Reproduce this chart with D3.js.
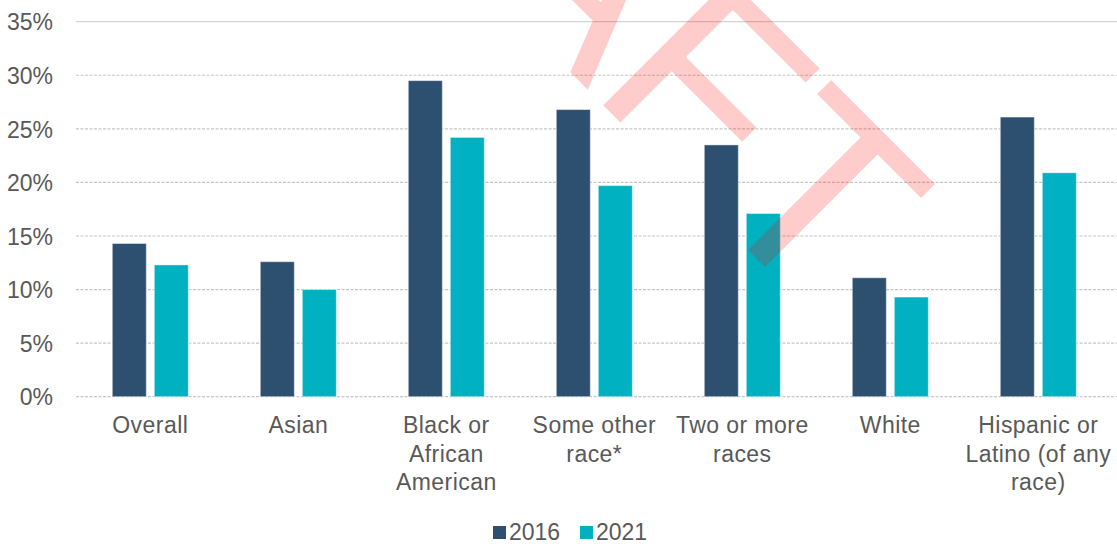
<!DOCTYPE html>
<html>
<head>
<meta charset="utf-8">
<script src="https://cdn.jsdelivr.net/npm/d3@7"></script>
<style>
  html, body { margin: 0; padding: 0; background: #ffffff; }
  svg { display: block; font-family: "Liberation Sans", Arial, sans-serif; }
</style>
</head>
<body>
<svg id="chart" width="1117" height="544"></svg>
<script>
// Share of population by race / ethnicity, 2016 vs 2021
const categories = [
  "Overall", "Asian", "Black or African American", "Some other race*",
  "Two or more races", "White", "Hispanic or Latino (of any race)"
];
const labelLines = [
  ["Overall"], ["Asian"], ["Black or", "African", "American"], ["Some other", "race*"],
  ["Two or more", "races"], ["White"], ["Hispanic or", "Latino (of any", "race)"]
];
const seriesNames = ["2016", "2021"];
const values2016 = [14.3, 12.6, 29.5, 26.8, 23.5, 11.1, 26.1];
const values2021 = [12.3, 10.0, 24.2, 19.7, 17.1, 9.3, 20.9];
const yTicks = [0, 5, 10, 15, 20, 25, 30, 35];
const colors = ["#2D4F70", "#00B1C1"];

const svg = d3.select("#chart");
const W = 1117;

const x = d3.scaleBand()
  .domain(categories)
  .range([76.3, 1112.3])
  .paddingInner(72 / 148)
  .paddingOuter(36 / 148);

const xSub = d3.scaleBand()
  .domain(seriesNames)
  .range([0, x.bandwidth()])
  .paddingInner(8 / 42)
  .paddingOuter(0);

const y = d3.scaleLinear().domain([0, 35]).range([396.7, 21.7]);

// Horizontal gridlines
const grid = svg.append("g");
grid.selectAll("line")
  .data(yTicks)
  .join("line")
  .attr("x1", 76)
  .attr("x2", W)
  .attr("y1", d => y(d))
  .attr("y2", d => y(d))
  .attr("stroke", d => d === 35 ? "#D4D4D4" : "#C6C6C6")
  .attr("stroke-width", 1.2)
  .attr("stroke-dasharray", d => d === 35 ? null : "3,1.5");

// Y axis labels
const yAxis = d3.axisLeft(y)
  .tickValues(yTicks)
  .tickFormat(d => d + "%")
  .tickSize(0)
  .tickPadding(0);
const yg = svg.append("g").attr("transform", "translate(53,0)").call(yAxis);
yg.select(".domain").remove();
yg.selectAll("text")
  .attr("font-family", "'Liberation Sans', Arial, sans-serif")
  .attr("font-size", 23)
  .attr("fill", "#595959")
  .attr("dy", "0.36em");

// Bars
const data = categories.map((c, i) => ({ cat: c, vals: [values2016[i], values2021[i]] }));
const groups = svg.append("g").selectAll("g")
  .data(data)
  .join("g")
  .attr("transform", d => `translate(${x(d.cat)},0)`);

groups.selectAll("rect")
  .data(d => d.vals.map((v, k) => ({ series: seriesNames[k], v, k })))
  .join("rect")
  .attr("x", d => xSub(d.series))
  .attr("width", xSub.bandwidth())
  .attr("y", d => y(d.v))
  .attr("height", d => y(0) - y(d.v))
  .attr("fill", d => colors[d.k])
  .attr("stroke", "rgba(255,255,255,0.45)")
  .attr("stroke-width", 1);

// X axis category labels
const xAxis = d3.axisBottom(x).tickSize(0).tickFormat("");
const xg = svg.append("g").attr("transform", "translate(0,396.7)").call(xAxis);
xg.select(".domain").remove();
const xl = svg.append("g");
categories.forEach((c, i) => {
  const cx = x(c) + x.bandwidth() / 2;
  const t = xl.append("text")
    .attr("x", cx)
    .attr("y", 433)
    .attr("text-anchor", "middle")
    .attr("font-size", 23)
    .attr("letter-spacing", 0.45)
    .attr("fill", "#595959");
  labelLines[i].forEach((line, j) => {
    t.append("tspan")
      .attr("x", cx)
      .attr("dy", j === 0 ? 0 : 28.7)
      .text(line);
  });
});

// Legend
const legendX = [493, 580];
const legend = svg.append("g");
seriesNames.forEach((s, k) => {
  legend.append("rect")
    .attr("x", legendX[k])
    .attr("y", 526)
    .attr("width", 13)
    .attr("height", 13)
    .attr("fill", colors[k]);
  legend.append("text")
    .attr("x", legendX[k] + 16)
    .attr("y", 539.5)
    .attr("font-size", 23)
    .attr("fill", "#595959")
    .text(s);
});

// Watermark
svg.append("text")
  .attr("transform", "translate(200,-298) rotate(45)")
  .attr("font-size", 260)
  .attr("fill", "rgba(255,0,0,0.2)")
  .text("DRAFT");
</script>
</body>
</html>
